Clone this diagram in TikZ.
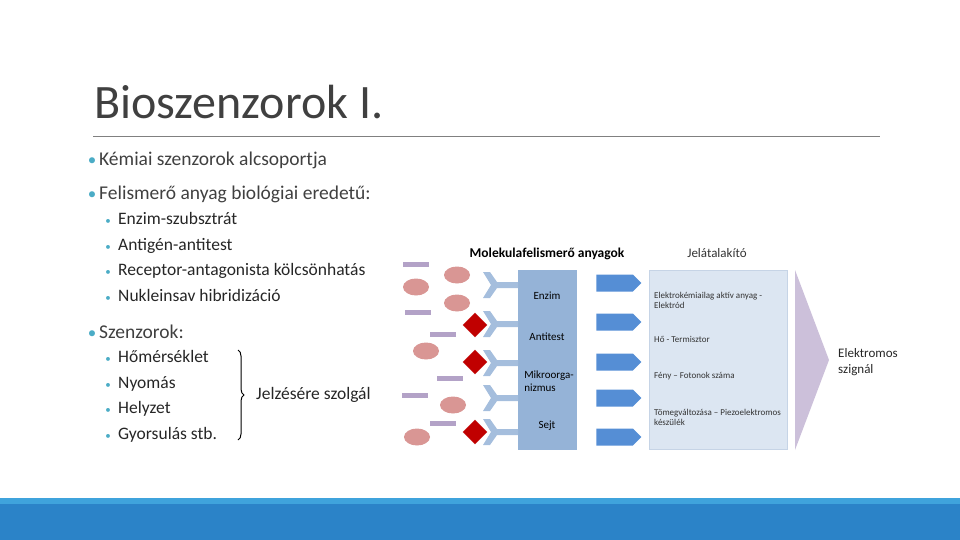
\documentclass[tikz,border=0pt]{standalone}
\usepackage{fontspec}
\setmainfont{Carlito}
\usetikzlibrary{shapes.geometric,shapes.arrows,decorations.pathreplacing}
\definecolor{txt}{HTML}{404040}
\definecolor{bul}{HTML}{4BACC6}
\definecolor{boxb}{HTML}{95B3D7}
\definecolor{arr}{HTML}{558ED5}
\definecolor{lbox}{HTML}{DCE6F2}
\definecolor{lboxd}{HTML}{C6D4E6}
\definecolor{lav}{HTML}{CCC0DA}
\definecolor{pur}{HTML}{B3A2C7}
\definecolor{pink}{HTML}{D99694}
\definecolor{dred}{HTML}{C00000}
\definecolor{foot}{HTML}{2B83C8}
\definecolor{footl}{HTML}{3FA3DC}
\begin{document}
\begin{tikzpicture}[x=1pt,y=-1pt,
  lvl1/.style={anchor=base west,font=\fontsize{19.5}{19.5}\selectfont,text=txt,inner sep=0},
  lvl2/.style={anchor=base west,font=\fontsize{17.5}{17.5}\selectfont,text=black!85,inner sep=0},
  bdot/.style={anchor=base,text=bul,inner sep=0},
  small/.style={anchor=west,font=\fontsize{9}{10}\selectfont,text=black!80,align=left,inner sep=0},
  ell/.style={fill=pink,draw=none},
  bar/.style={fill=pur,draw=none},
  dia/.style={diamond,fill=dred,draw=white,line width=0.6pt,minimum size=26pt,inner sep=0},
  rarrow/.style={single arrow,fill=arr,draw=none,minimum width=17pt,single arrow head extend=0pt,minimum height=45pt,inner sep=0,single arrow tip angle=90}]
\path[use as bounding box] (0,0) rectangle (960,540);
\fill[foot] (0,498) rectangle (960,540);
\fill[footl] (0,498) rectangle (960,504);
\node[anchor=base west,font=\fontsize{48}{48}\selectfont,text=txt,inner sep=0] (title) at (94,119) {Bioszenzorok I.};
\draw[gray,line width=0.8pt] (93,136) coordinate (l1) -- (880,136) coordinate (l2);
% level 1 bullets
\node[bdot,font=\fontsize{17}{17}\selectfont] (d1) at (92,165) {•};
\node[lvl1] (t1) at (99,165) {Kémiai szenzorok alcsoportja};
\node[bdot,font=\fontsize{17}{17}\selectfont] (d2) at (92,200) {•};
\node[lvl1] (t2) at (99,200) {Felismerő anyag biológiai eredetű:};
\foreach \y/\t [count=\i] in {224/Enzim-szubsztrát,250/Antigén-antitest,275/Receptor-antagonista kölcsönhatás,301/Nukleinsav hibridizáció}{
  \node[bdot,font=\fontsize{11}{11}\selectfont] (a\i) at (108,\y) {•};
  \node[lvl2] (b\i) at (118,\y) {\t};
}
\node[bdot,font=\fontsize{17}{17}\selectfont] (d3) at (92,338) {•};
\node[lvl1] (t3) at (99,338) {Szenzorok:};
\foreach \y/\t [count=\i] in {362/Hőmérséklet,388/Nyomás,413/Helyzet,439/Gyorsulás stb.}{
  \node[bdot,font=\fontsize{11}{11}\selectfont] (c\i) at (108,\y) {•};
  \node[lvl2] (e\i) at (118,\y) {\t};
}
\draw[decorate,decoration={brace,amplitude=6pt},line width=1pt] (238,350) coordinate (br1) -- (238,440) coordinate (br2);
\node[lvl2,anchor=west] (jel) at (256,395) {Jelzésére szolgál};
% diagram
\node[anchor=center,font=\bfseries\fontsize{13.5}{14}\selectfont,inner sep=0] (h1) at (547,254) {Molekulafelismerő anyagok};
\node[anchor=center,font=\fontsize{13}{14}\selectfont,text=black!80,inner sep=0] (h2) at (717,253) {Jelátalakító};
% ellipses
\foreach \x/\y [count=\i] in {416/287,457/275,457/303,426/351,453/405,417/437}
  \fill[ell] (\x,\y) coordinate (el\i) ellipse (13pt and 8.5pt);
% bars
\foreach \x/\y [count=\i] in {403/264,405/312,430/334,437/378,402/395,430/423}
  \fill[bar] (\x,\y-2.5) coordinate (ba\i) rectangle ++(26,5);
% blue box
\fill[boxb] (518,270) rectangle (577,450);
% receptors (Y-shapes)
\foreach \y [count=\i] in {285,324,363,398,432}{
  \fill[boxb!85] (483,\y-13) coordinate (r\i) -- (490,\y-13) -- (497,\y-3) -- (518,\y-3) -- (518,\y+3) -- (497,\y+3) -- (490,\y+13) -- (483,\y+13) -- (491,\y) -- cycle;
}
\foreach \y [count=\i] in {325,362,432} \node[dia] (dm\i) at (475,\y) {};
\foreach \y/\t [count=\i] in {296/Enzim,337/Antitest,426/Sejt}
  \node[font=\fontsize{11}{11}\selectfont,inner sep=0] (bt\i) at (547,\y) {\t};
\node[font=\fontsize{11}{13}\selectfont,align=left,inner sep=0] (btm) at (549,381) {Mikroorga-\\nizmus};
% arrows
\foreach \y [count=\i] in {283,322,362,398,437} \node[rarrow] (ar\i) at (614.5,\y) {};
% light box
\fill[lbox,draw=lboxd,line width=0.8pt] (649,270) rectangle (787,449);
\node[small] (s1) at (654,300) {Elektrokémiailag aktív anyag -\\Elektród};
\node[small] (s2) at (654,339) {Hő - Termisztor};
\node[small] (s3) at (654,376) {Fény – Fotonok száma};
\node[small] (s4) at (654,417) {Tömegváltozása – Piezoelektromos\\készülék};
% chevron
\fill[lav] (795,270) coordinate (cv1) -- (829,360) coordinate (cv2) -- (795,450) coordinate (cv3) -- cycle;
\node[anchor=west,align=left,font=\fontsize{13}{16}\selectfont,text=black!85,inner sep=0] (sig) at (838,362) {Elektromos\\szignál};
\end{tikzpicture}
\end{document}
